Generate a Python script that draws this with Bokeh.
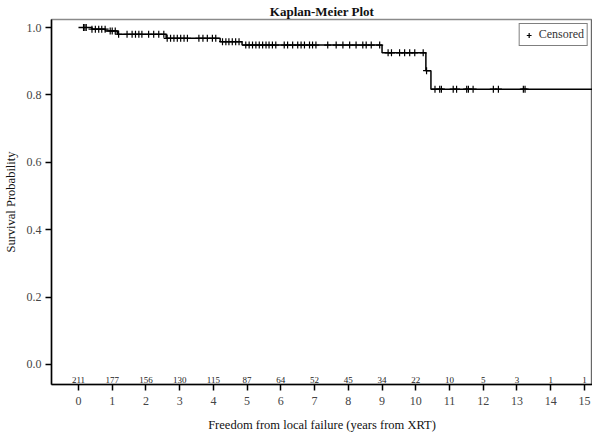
import numpy as np
from bokeh.plotting import figure
from bokeh.models import (FixedTicker, Range1d, Span, Legend, LegendItem, Title,
                          CustomJSTickFormatter)
from bokeh.core.properties import value
from bokeh.embed import file_html
from bokeh.resources import INLINE

# ---- data ----
step_times = [0.0, 0.4, 0.8, 1.15, 2.6, 4.2, 4.85, 9.0, 10.3, 10.45, 15.5]
step_surv = [1.0, 0.995, 0.99, 0.98, 0.968, 0.958, 0.948, 0.925, 0.872, 0.817, 0.817]

censor_times = [0.15, 0.19, 0.23, 0.4, 0.5, 0.6, 0.69, 0.79, 0.94, 1.0, 1.09, 1.19,
                1.44, 1.59, 1.69, 1.79, 1.88, 2.08, 2.23, 2.38, 2.53, 2.63, 2.73,
                2.83, 2.93, 3.03, 3.13, 3.23, 3.57, 3.69, 3.82, 3.97, 4.07, 4.27,
                4.37, 4.46, 4.56, 4.66, 4.76, 4.96, 5.06, 5.16, 5.26, 5.36, 5.46,
                5.56, 5.65, 5.75, 5.85, 6.1, 6.2, 6.35, 6.5, 6.6, 6.7, 6.85, 6.94,
                7.04, 7.39, 7.64, 7.84, 8.04, 8.23, 8.43, 8.53, 8.68, 8.93, 9.18,
                9.28, 9.52, 9.67, 9.82, 9.97, 10.22, 10.32, 10.57, 10.71, 10.76,
                11.11, 11.21, 11.51, 11.56, 11.7, 12.3, 12.45, 13.19, 13.24]

risk_years = list(range(16))
at_risk = [211, 177, 156, 130, 115, 87, 64, 52, 45, 34, 22, 10, 5, 3, 1, 1]
risk_row_y = -0.045

y_ticks = [0.0, 0.2, 0.4, 0.6, 0.8, 1.0]

# censor marks sit on the step curve
st = np.array(step_times)
sv = np.array(step_surv)
ct = np.array(censor_times)
censor_surv = sv[np.searchsorted(st, ct, side="right") - 1]

FONT = "Liberation Serif"
X_START, X_END = -0.80, 15.24
Y_START, Y_END = -0.0595, 1.0238

p = figure(width=592, height=434, output_backend="svg", toolbar_location=None,
           x_range=Range1d(X_START, X_END), y_range=Range1d(Y_START, Y_END),
           min_border_left=45, min_border_right=0, min_border_top=0,
           min_border_bottom=0)
p.title = Title(text="Kaplan-Meier Plot", align="center", text_font=FONT,
                text_font_size="13px", text_font_style="bold", text_color="#111111",
                standoff=2, offset=0)
p.grid.visible = False
p.outline_line_color = "#8a8a8a"
p.outline_line_width = 1.5
p.background_fill_color = "white"

p.step(step_times, step_surv, mode="after", line_color="black", line_width=1.5)
cr = p.scatter(ct, censor_surv, marker="cross", size=7, line_color="black",
               line_width=1.2)

p.text(x=risk_years, y=[risk_row_y] * len(risk_years), text=[str(v) for v in at_risk],
       text_font=value(FONT), text_font_size="9px", text_color="#222222",
       text_align="center", text_baseline="middle")

# axes
xa = p.xaxis[0]
xa.ticker = FixedTicker(ticks=risk_years)
xa.axis_label = "Freedom from local failure (years from XRT)"
ya = p.yaxis[0]
ya.ticker = FixedTicker(ticks=y_ticks)
ya.formatter = CustomJSTickFormatter(code="return tick.toFixed(1);")
ya.axis_label = "Survival Probability"
for ax in (xa, ya):
    ax.axis_line_color = "black"
    ax.axis_line_width = 1.5
    ax.major_tick_line_color = "black"
    ax.major_tick_line_width = 1.5
    ax.major_tick_in = 0
    ax.major_tick_out = 6
    ax.minor_tick_line_color = None
    ax.major_label_text_font = FONT
    ax.major_label_text_font_size = "12px"
    ax.major_label_text_color = "#444444"
    ax.axis_label_text_font = FONT
    ax.axis_label_text_font_size = "12.5px"
    ax.axis_label_text_font_style = "normal"
    ax.axis_label_text_color = "#111111"
xa.major_label_standoff = 6
xa.axis_label_standoff = 10
ya.major_label_standoff = 4
ya.axis_label_standoff = 6

# right border in black
p.add_layout(Span(location=X_END, dimension="height", line_color="black", line_width=1.5))

legend = Legend(items=[LegendItem(label="Censored", renderers=[cr])],
                location="top_right", margin=4, padding=3, spacing=0,
                glyph_width=12, glyph_height=12, label_standoff=4,
                label_text_font=FONT, label_text_font_size="12px",
                label_text_color="#333333",
                border_line_color="black", border_line_width=1.2,
                background_fill_alpha=1.0)
p.add_layout(legend)

open("out.html", "w").write(file_html(p, INLINE))
